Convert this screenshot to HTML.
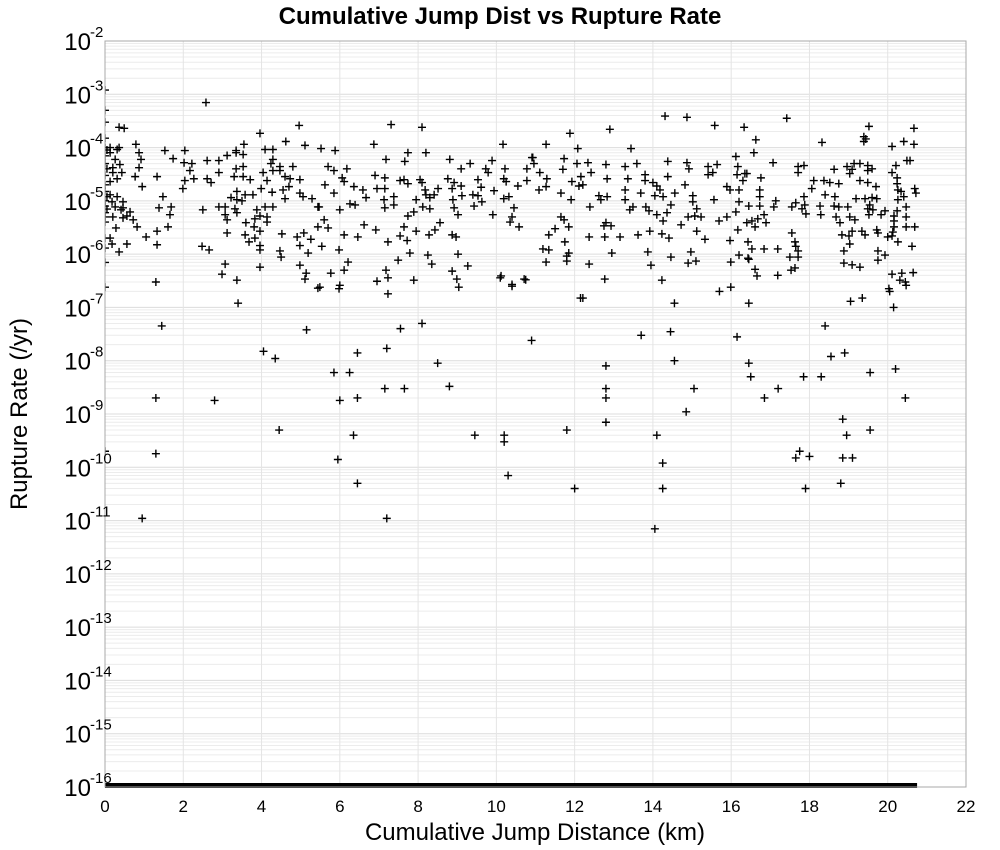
<!DOCTYPE html>
<html><head><meta charset="utf-8"><style>
html,body{margin:0;padding:0;background:#fff;}
svg{display:block;font-family:"Liberation Sans","DejaVu Sans",sans-serif;}
</style></head><body>
<svg id="chart" width="1000" height="850" viewBox="0 0 1000 850"></svg>
<script>
const xTicks=[0,2,4,6,8,10,12,14,16,18,20,22];
const yDecades=[-2,-3,-4,-5,-6,-7,-8,-9,-10,-11,-12,-13,-14,-15,-16];
const zeroRateExtent=[0,20.75];
const distance=[
0.36,0.49,0.79,0.87,0.92,0.87,0.77,0.95,1.33,1.48,1.38,1.69,1.66,1.61,1.33,1.33,1.05,0.82,0.72,0.64,0.56,0.36,0.18,0.13,0.28,0.20,0.46,0.46,0.46,0.26,0.18,0.31,0.13,0.13,0.31,0.43,0.38,0.20,0.26,0.13,0.31,0.36,0.13,0.20,0.41,0.56,
1.53,1.74,2.04,2.02,2.22,2.17,2.27,2.04,1.99,2.61,2.91,3.12,3.35,3.55,3.35,3.53,3.53,3.35,3.30,3.53,3.71,2.91,2.61,2.71,2.50,2.91,3.07,3.07,3.12,3.12,2.48,2.66,3.07,2.99,3.37,3.22,3.37,3.37,3.58,3.50,3.78,3.32,3.37,3.60,3.58,3.68,3.83,3.96,3.81,3.83,3.88,3.96,4.09,4.14,4.14,4.29,4.27,3.99,4.14,4.04,4.09,4.29,4.29,4.24,4.29,4.47,4.47,3.96,4.96,4.62,5.11,4.80,4.60,4.73,4.98,4.55,4.70,4.60,4.98,5.06,5.29,5.44,4.52,4.91,5.08,5.26,5.44,4.98,5.19,4.47,4.50,3.96,3.96,3.96,4.98,5.14,5.11,5.44,
7.31,8.10,6.87,7.74,8.20,5.52,5.88,7.18,7.66,8.81,9.33,9.89,10.17,10.91,5.70,5.85,6.18,6.06,6.11,6.90,7.15,7.54,7.64,7.74,8.05,8.10,9.10,8.76,8.92,9.10,9.53,9.73,9.79,10.22,10.19,10.25,10.78,10.78,10.55,9.61,9.94,5.62,5.85,6.36,6.59,6.67,6.95,7.15,8.18,8.20,8.30,8.41,8.51,8.87,9.12,9.40,9.53,9.63,9.43,7.95,7.38,7.13,7.38,7.15,8.12,8.30,8.89,8.92,9.02,10.19,10.32,10.45,9.91,10.40,10.35,10.58,5.47,6.00,6.26,6.39,7.74,7.89,5.60,5.70,6.62,6.92,7.64,7.95,8.43,8.56,6.11,6.46,7.54,7.72,7.23,8.28,8.87,8.97,5.54,5.98,7.79,8.25,9.02,7.49,8.35,9.27,6.21,6.11,5.77,7.18,8.87,8.99,9.04,10.12,10.40,10.71,5.49,6.00,5.98,6.95,7.23,7.89,7.23,
14.31,14.87,15.58,16.33,12.90,11.88,11.27,12.08,13.44,10.93,10.96,11.73,11.70,12.06,12.34,12.80,13.29,13.59,14.38,14.87,14.92,15.41,15.64,15.53,15.41,16.12,16.17,16.15,16.35,11.11,11.29,11.27,11.09,12.16,12.42,12.83,13.36,13.80,13.80,14.38,14.00,14.10,14.18,11.93,12.11,12.21,11.65,11.91,12.62,12.67,12.83,13.29,13.29,13.69,14.05,14.26,14.56,14.82,15.02,15.02,15.12,14.46,15.56,15.89,15.97,16.20,16.30,16.20,16.12,12.39,13.41,13.49,13.82,13.90,14.10,14.26,14.36,14.90,15.07,15.23,14.72,15.69,15.89,16.40,16.17,11.65,11.73,11.50,11.34,11.85,12.80,12.75,12.93,12.37,12.77,13.16,13.62,13.92,14.23,14.41,15.12,15.33,15.97,16.43,11.75,11.19,11.34,11.85,11.80,12.95,13.87,14.46,14.97,16.20,11.27,11.80,12.37,13.95,14.90,15.10,15.99,16.43,12.77,14.23,15.99,12.21,
17.42,19.52,20.67,16.63,16.58,18.32,19.39,19.44,19.39,20.11,20.41,20.67,17.07,17.71,17.86,17.71,18.63,18.96,19.14,19.29,19.09,19.03,19.49,19.60,19.49,20.21,20.49,20.57,20.11,20.24,16.76,16.40,18.11,18.37,18.52,18.75,19.29,19.49,19.70,20.24,20.26,20.69,20.72,16.73,16.73,18.06,17.86,18.40,18.65,19.19,19.42,19.60,19.72,19.54,20.26,20.41,20.34,16.45,16.73,17.09,17.14,17.55,17.65,17.81,17.88,17.91,18.27,18.29,18.63,18.75,18.98,18.68,18.78,19.03,19.16,19.49,19.62,19.52,19.83,19.93,20.16,20.24,20.47,20.47,16.53,16.68,16.84,16.61,16.89,20.16,20.16,20.47,20.69,18.83,19.01,19.09,19.34,19.42,19.72,19.75,20.00,20.11,20.13,17.55,19.03,18.88,19.75,19.93,19.75,16.53,16.84,17.19,17.63,17.65,17.71,17.50,17.71,16.45,20.26,20.62,18.88,19.09,19.29,17.53,17.63,16.61,16.66,17.19,20.11,20.36,20.65,20.31,20.47,20.03,
0,0,0,0,0,0,0,0,0,0,0,0,0,0,0,0,0,0,0,0,0.05,0.05,0.05,0.05,
2.58,1.30,1.45,1.30,1.30,0.95,2.80,3.40,4.05,4.35,4.45,5.15,5.85,6.00,5.95,6.25,6.45,6.45,6.35,6.45,7.15,7.20,7.20,7.55,7.65,8.10,8.50,8.80,9.45,10.20,10.20,10.30,10.90,11.80,12.00,12.80,12.80,12.80,12.80,13.70,14.10,14.25,14.05,14.25,14.45,14.55,14.85,15.05,16.15,16.45,16.50,16.85,17.20,17.65,17.75,17.85,17.90,18.00,18.30,18.40,18.55,18.80,18.85,18.90,18.95,18.85,19.10,19.55,19.55,20.20,20.45,19.05,19.35,20.15,20.05,20.45,12.15,10.10,10.40,10.75,14.55,16.45,15.70
];
const rate=[
2.4e-4,2.3e-4,1.15e-4,8.0e-5,6.0e-5,4.2e-5,2.85e-5,1.85e-5,2.85e-5,1.2e-5,7.4e-6,7.7e-6,5.5e-6,3.25e-6,2.7e-6,1.5e-6,2.1e-6,3.25e-6,4.4e-6,6.2e-6,1.55e-6,1.1e-6,1.55e-6,2.0e-6,3.1e-6,5.0e-6,4.8e-6,7.4e-6,9.6e-6,7.7e-6,9.6e-6,1.2e-5,1.3e-5,2.3e-5,2.6e-5,3.4e-5,4.8e-5,4.2e-5,6.0e-5,8.0e-5,9.2e-5,1.0e-4,1.0e-4,3.4e-5,6.8e-6,5.2e-6,
8.8e-5,6.2e-5,8.8e-5,5.2e-5,5.0e-5,3.7e-5,2.6e-5,2.4e-5,1.7e-5,5.7e-5,5.7e-5,7.1e-5,8.8e-5,1.15e-4,8.0e-5,7.4e-5,4.4e-5,4.0e-5,2.85e-5,2.85e-5,2.5e-5,3.4e-5,2.6e-5,2.2e-5,6.8e-6,7.7e-6,7.7e-6,5.5e-6,4.4e-6,2.5e-6,1.4e-6,1.2e-6,6.5e-7,4.2e-7,3.25e-7,1.15e-5,1.5e-5,1.05e-5,1.3e-5,1.0e-5,1.3e-5,7.1e-6,6.0e-6,3.9e-6,2.3e-6,1.7e-6,2.0e-6,2.7e-6,3.25e-6,4.6e-6,6.8e-6,5.2e-6,7.7e-6,5.0e-6,4.0e-6,7.7e-6,1.45e-5,1.7e-5,2.4e-5,3.4e-5,9.2e-5,9.2e-5,6.0e-5,5.0e-5,3.7e-5,4.4e-5,3.7e-5,1.85e-4,2.6e-4,1.3e-4,1.1e-4,4.4e-5,2.85e-5,2.6e-5,2.5e-5,1.6e-5,1.85e-5,1.1e-5,1.4e-5,1.2e-5,1.1e-5,7.7e-6,2.4e-6,2.1e-6,2.5e-6,1.9e-6,3.25e-6,1.45e-6,1.05e-6,1.15e-6,8.8e-7,1.45e-6,1.2e-6,5.7e-7,6.2e-7,4.4e-7,3.4e-7,2.3e-7,
2.7e-4,2.4e-4,1.15e-4,8.0e-5,8.0e-5,9.6e-5,8.8e-5,6.0e-5,5.5e-5,6.0e-5,5.0e-5,5.7e-5,1.15e-4,6.5e-5,4.4e-5,3.7e-5,4.0e-5,2.7e-5,2.3e-5,3.0e-5,2.7e-5,2.4e-5,2.5e-5,2.1e-5,2.5e-5,2.2e-5,4.0e-5,2.6e-5,2.2e-5,1.9e-5,2.5e-5,4.0e-5,3.4e-5,4.0e-5,2.6e-5,2.3e-5,4.0e-5,2.4e-5,1.9e-5,1.8e-5,1.55e-5,2.0e-5,1.4e-5,1.85e-5,1.6e-5,1.15e-5,1.7e-5,1.7e-5,1.6e-5,1.3e-5,1.15e-5,1.3e-5,1.7e-5,1.7e-5,1.25e-5,1.3e-5,1.25e-5,9.6e-6,8.0e-6,1.05e-5,1.2e-5,1.05e-5,8.4e-6,7.4e-6,7.7e-6,7.1e-6,1.05e-5,7.4e-6,5.5e-6,1.1e-5,1.2e-5,7.4e-6,5.5e-6,5.0e-6,4.0e-6,3.25e-6,7.7e-6,6.8e-6,8.8e-6,8.4e-6,5.2e-6,6.2e-6,4.4e-6,3.1e-6,3.55e-6,2.85e-6,3.25e-6,2.7e-6,2.85e-6,3.9e-6,2.3e-6,2.1e-6,2.2e-6,1.8e-6,1.7e-6,2.3e-6,2.3e-6,2.1e-6,1.4e-6,1.2e-6,1.05e-6,9.6e-7,1.0e-6,7.7e-7,6.5e-7,6.0e-7,7.1e-7,5.0e-7,4.4e-7,5.0e-7,4.8e-7,3.4e-7,2.4e-7,3.9e-7,2.7e-7,3.4e-7,2.4e-7,2.6e-7,2.25e-7,3.1e-7,3.6e-7,3.25e-7,1.8e-7,
3.9e-4,3.7e-4,2.6e-4,2.4e-4,2.2e-4,1.85e-4,1.15e-4,9.6e-5,9.6e-5,6.5e-5,5.0e-5,6.2e-5,3.9e-5,5.0e-5,5.2e-5,4.8e-5,4.4e-5,5.0e-5,5.5e-5,5.2e-5,4.0e-5,4.4e-5,4.8e-5,3.4e-5,3.1e-5,6.8e-5,4.4e-5,3.1e-5,3.25e-5,3.4e-5,2.6e-5,1.85e-5,1.6e-5,2.85e-5,3.4e-5,2.6e-5,2.6e-5,3.1e-5,2.4e-5,2.85e-5,2.2e-5,1.9e-5,1.6e-5,2.3e-5,1.9e-5,2.0e-5,1.4e-5,1.05e-5,1.25e-5,1.05e-5,1.2e-5,1.6e-5,1.05e-5,1.4e-5,1.25e-5,1.2e-5,1.4e-5,2.0e-5,1.25e-5,9.6e-6,7.1e-6,8.4e-6,1.05e-5,1.85e-5,1.6e-5,1.6e-5,2.4e-5,9.6e-6,6.2e-6,7.7e-6,6.8e-6,7.7e-6,7.7e-6,6.5e-6,5.5e-6,4.2e-6,6.0e-6,5.0e-6,5.2e-6,5.0e-6,3.55e-6,4.2e-6,5.0e-6,3.9e-6,2.85e-6,5.0e-6,4.4e-6,3.0e-6,2.3e-6,3.25e-6,3.9e-6,3.4e-6,3.4e-6,2.1e-6,2.1e-6,2.1e-6,2.3e-6,2.7e-6,2.4e-6,2.0e-6,2.7e-6,1.9e-6,1.8e-6,1.7e-6,1.7e-6,1.25e-6,1.2e-6,1.05e-6,9.2e-7,1.05e-6,1.1e-6,8.8e-7,1.1e-6,9.6e-7,7.1e-7,7.4e-7,6.5e-7,6.2e-7,6.8e-7,7.4e-7,7.1e-7,8.4e-7,3.4e-7,3.25e-7,2.4e-7,1.5e-7,
3.55e-4,2.5e-4,2.3e-4,1.4e-4,8.0e-5,1.25e-4,1.6e-4,1.45e-4,1.3e-4,1.05e-4,1.3e-4,1.15e-4,5.2e-5,4.4e-5,4.6e-5,3.4e-5,3.9e-5,4.4e-5,5.0e-5,5.0e-5,3.9e-5,3.25e-5,4.6e-5,4.0e-5,3.7e-5,4.6e-5,5.7e-5,5.7e-5,3.4e-5,2.7e-5,2.7e-5,3.25e-5,2.4e-5,2.4e-5,2.2e-5,2.1e-5,2.4e-5,2.2e-5,1.85e-5,2.1e-5,1.6e-5,1.7e-5,1.4e-5,1.6e-5,1.2e-5,1.7e-5,1.2e-5,1.3e-5,1.2e-5,1.1e-5,1.1e-5,1.15e-5,1.1e-5,8.4e-6,1.05e-5,1.2e-5,1.5e-5,8.0e-6,8.0e-6,7.7e-6,1.0e-5,7.7e-6,9.2e-6,7.1e-6,8.4e-6,5.7e-6,8.0e-6,5.5e-6,8.0e-6,7.7e-6,7.7e-6,5.0e-6,3.9e-6,5.0e-6,4.4e-6,7.1e-6,6.8e-6,5.5e-6,5.5e-6,6.5e-6,5.2e-6,6.5e-6,7.7e-6,5.0e-6,4.2e-6,4.6e-6,5.5e-6,3.25e-6,3.9e-6,4.2e-6,3.25e-6,3.25e-6,3.25e-6,2.3e-6,2.2e-6,2.7e-6,2.7e-6,2.3e-6,2.85e-6,2.5e-6,2.1e-6,2.2e-6,2.6e-6,2.5e-6,1.55e-6,1.15e-6,1.15e-6,9.6e-7,7.7e-7,1.25e-6,1.25e-6,1.25e-6,1.7e-6,1.4e-6,1.15e-6,8.8e-7,8.8e-7,8.0e-7,1.7e-6,1.4e-6,6.8e-7,6.3e-7,5.7e-7,5.0e-7,5.5e-7,5.2e-7,3.9e-7,4.0e-7,4.2e-7,4.4e-7,4.5e-7,3.25e-7,2.6e-7,2.25e-7,
1.2e-3,5e-4,3e-4,1.5e-4,1e-4,7e-5,5e-5,3e-5,2e-5,1.5e-5,1e-5,8e-6,6e-6,5e-6,4e-6,2e-6,1.3e-6,7e-7,2.4e-7,2e-10,9e-5,4e-5,1.2e-5,7e-6,
7e-4,3e-7,4.5e-8,2e-9,1.8e-10,1.1e-11,1.8e-9,1.2e-7,1.5e-8,1.1e-8,5e-10,3.8e-8,6e-9,1.8e-9,1.4e-10,6e-9,1.4e-8,2e-9,4e-10,5e-11,3e-9,1.7e-8,1.1e-11,4e-8,3e-9,5e-8,9e-9,3.3e-9,4e-10,4e-10,3e-10,7e-11,2.4e-8,5e-10,4e-11,8e-9,3e-9,2e-9,7e-10,3e-8,4e-10,1.2e-10,7e-12,4e-11,3.5e-8,1e-8,1.1e-9,3e-9,2.8e-8,9e-9,5e-9,2e-9,3e-9,1.5e-10,2e-10,5e-9,4e-11,1.6e-10,5e-9,4.5e-8,1.2e-8,5e-11,8e-10,1.4e-8,4e-10,1.5e-10,1.5e-10,5e-10,6e-9,7e-9,2e-9,1.3e-7,1.5e-7,1e-7,2e-7,3e-7,1.5e-7,3.6e-7,2.5e-7,3.3e-7,1.2e-7,1.2e-7,2e-7
];

const NS='http://www.w3.org/2000/svg';
const svg=document.getElementById('chart');
const L=105,R=966,T=41,B=787;
const xMin=0,xMax=22,yMinExp=-16,yMaxExp=-2;
function xs(v){return L+(v-xMin)/(xMax-xMin)*(R-L);}
function ys(v){const e=Math.log10(v);return B-(e-yMinExp)/(yMaxExp-yMinExp)*(B-T);}
function mk(tag,attrs,parent){const el=document.createElementNS(NS,tag);for(const k in attrs)el.setAttribute(k,attrs[k]);(parent||svg).appendChild(el);return el;}

// clip
const defs=mk('defs',{});
const cp=mk('clipPath',{id:'plotclip'},defs);
mk('rect',{x:L,y:T,width:R-L,height:B-T},cp);

const bg=mk('rect',{x:L,y:T,width:R-L,height:B-T,fill:'#fff'});



const grid=mk('g',{});


for(let d=yMinExp;d<yMaxExp;d++){
  for(let m=1;m<10;m++){
    const y=ys(m*Math.pow(10,d));
    const ln=mk('line',{x1:L,x2:R,y1:y,y2:y,stroke:m===1?'#dcdcdc':'#ececec','stroke-width':1},grid);
    
    
  }
}
xTicks.forEach(t=>{
  const x=xs(t);
  const ln=mk('line',{x1:x,x2:x,y1:T,y2:B,stroke:'#e4e4e4','stroke-width':1},grid);
  
  
});

// points
const pts=mk('g',{'clip-path':'url(#plotclip)',stroke:'#000','stroke-width':1.4,fill:'none'});


for(let i=0;i<distance.length;i++){
  const x=xs(distance[i]),y=ys(rate[i]),s=4;
  const p=mk('path',{d:`M${x-s},${y}H${x+s}M${x},${y-s}V${y+s}`},pts);
  
  
}
// zero-rate points clipped at 1e-16
const zr=mk('rect',{x:xs(zeroRateExtent[0]),y:ys(1e-16)-4,width:xs(zeroRateExtent[1])-xs(zeroRateExtent[0]),height:5,fill:'#000'});



const frame=mk('rect',{x:L,y:T,width:R-L,height:B-T,fill:'none',stroke:'#a8a8a8','stroke-width':1});



// x tick labels
xTicks.forEach(t=>{
  const tx=mk('text',{x:xs(t),y:812,'text-anchor':'middle','font-size':17,fill:'#000'});
  tx.textContent=String(t);
  
  
});
// y tick labels
yDecades.forEach(e=>{
  const y=ys(Math.pow(10,e));
  const g=mk('text',{x:91,y:y+9,'text-anchor':'end','font-size':24,fill:'#000'});
  g.textContent='10';
  
  
  const s=mk('text',{x:90,y:y-4,'text-anchor':'start','font-size':15,fill:'#000'});
  s.textContent=String(e);
  
  
});
</script>
<svg width="0" height="0" style="position:absolute"></svg>
<script>
(function(){
const svg=document.getElementById('chart');
const NS='http://www.w3.org/2000/svg';
function t(txt,attrs,name){const el=document.createElementNS(NS,'text');for(const k in attrs)el.setAttribute(k,attrs[k]);el.textContent=txt;


svg.appendChild(el);}
t('Cumulative Jump Dist vs Rupture Rate',{x:500,y:24,'text-anchor':'middle','font-size':24,'font-weight':'bold',fill:'#000'},'chart-title');
t('Cumulative Jump Distance (km)',{x:535,y:840,'text-anchor':'middle','font-size':24,fill:'#000'},'x-axis-title');
t('Rupture Rate (/yr)',{x:0,y:0,'text-anchor':'middle','font-size':24,fill:'#000',transform:'translate(27,414) rotate(-90)'},'y-axis-title');
})();
</script>
</body></html>
